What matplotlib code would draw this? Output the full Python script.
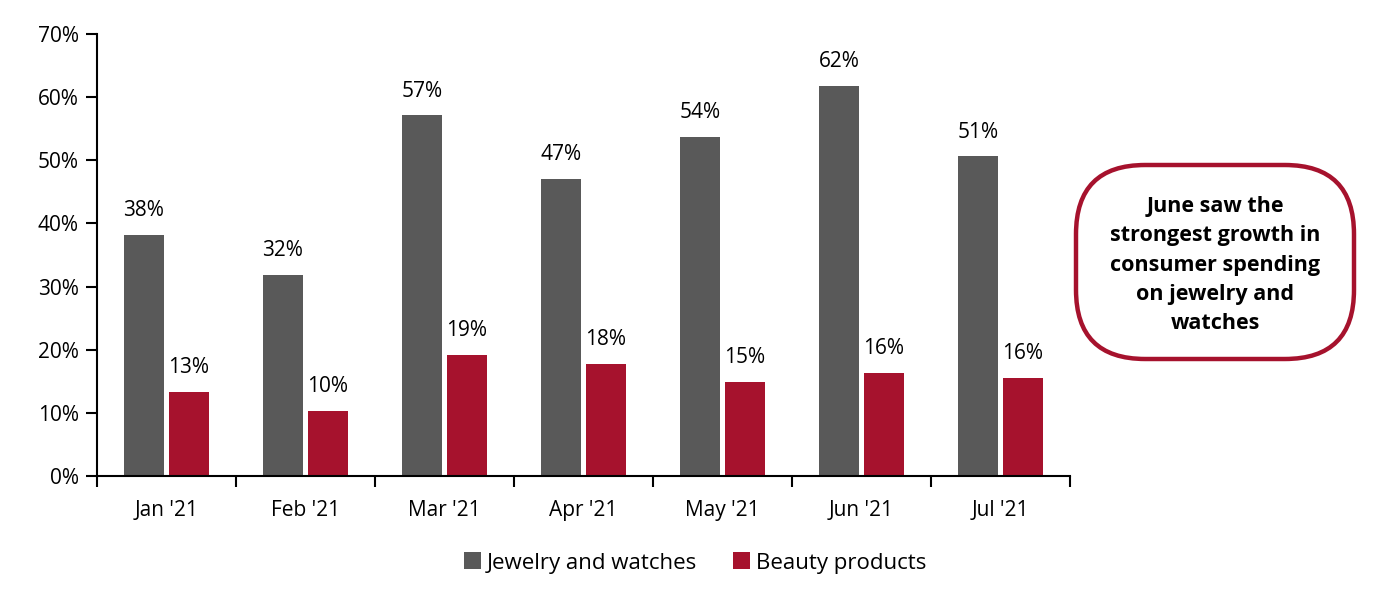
import matplotlib
matplotlib.use("Agg")
import matplotlib.pyplot as plt
from matplotlib.patches import FancyBboxPatch
from matplotlib.ticker import FixedLocator, FuncFormatter
import numpy as np

plt.rcParams['font.family'] = ['Open Sans', 'DejaVu Sans']

months = ["Jan '21", "Feb '21", "Mar '21", "Apr '21", "May '21", "Jun '21", "Jul '21"]
jewelry = [38.2, 31.9, 57.1, 47.1, 53.7, 61.8, 50.6]
beauty = [13.3, 10.3, 19.2, 17.7, 14.9, 16.3, 15.5]
series_names = ["Jewelry and watches", "Beauty products"]
note = "June saw the\nstrongest growth in\nconsumer spending\non jewelry and\nwatches"

gray = "#595959"
red = "#A6122D"

fig = plt.figure(figsize=(13.82, 6.06), dpi=100)
ax = fig.add_axes([97/1382, 1 - 476/606, (1070-97)/1382, (476-34)/606])

x = np.arange(len(months))
w = 0.29
off = 0.162
b1 = ax.bar(x - off, jewelry, w, color=gray, label=series_names[0])
b2 = ax.bar(x + off, beauty, w, color=red, label=series_names[1])

for bars, vals in ((b1, jewelry), (b2, beauty)):
    for rect, v in zip(bars, vals):
        ax.annotate(f"{round(v):.0f}%", (rect.get_x() + rect.get_width()/2, v),
                    xytext=(0, 10), textcoords="offset points",
                    ha="center", va="bottom", fontsize=15, color="black")

ax.set_xlim(-0.5, len(months) - 0.5)
ax.set_ylim(0, 70)
ax.set_yticks(np.arange(0, 71, 10))
ax.yaxis.set_major_formatter(FuncFormatter(lambda v, p: f"{v:.0f}%"))
ax.set_xticks(x)
ax.set_xticklabels(months)
ax.xaxis.set_minor_locator(FixedLocator(np.arange(-0.5, len(months), 1)))
ax.tick_params(axis='x', which='major', length=0, pad=17, labelsize=15)
ax.tick_params(axis='x', which='minor', length=8, width=1.5, direction='out')
ax.tick_params(axis='y', length=8, width=1.5, direction='out', labelsize=15, pad=5)
for s in ("top", "right"):
    ax.spines[s].set_visible(False)
for s in ("left", "bottom"):
    ax.spines[s].set_linewidth(1.5)
    ax.spines[s].set_color("black")

leg = fig.legend(handles=[b1, b2], loc="center", bbox_to_anchor=(695/1382, 1 - 563/606),
                 ncol=2, frameon=False, fontsize=16, handlelength=0.8, handleheight=0.8,
                 columnspacing=1.6, handletextpad=0.25)

box = FancyBboxPatch((1076/1382, 1 - 359/606), (1354-1076)/1382, (359-165)/606,
                     boxstyle="round,pad=0,rounding_size=0.05",
                     transform=fig.transFigure, facecolor="white", edgecolor=red,
                     linewidth=3.2, mutation_aspect=1382/606)
fig.patches.append(box)
fig.text(1215/1382, 1 - 265/606, note, ha="center", va="center", fontsize=15.5,
         fontweight="bold", linespacing=1.52)

fig.savefig("out.png", dpi=100)
